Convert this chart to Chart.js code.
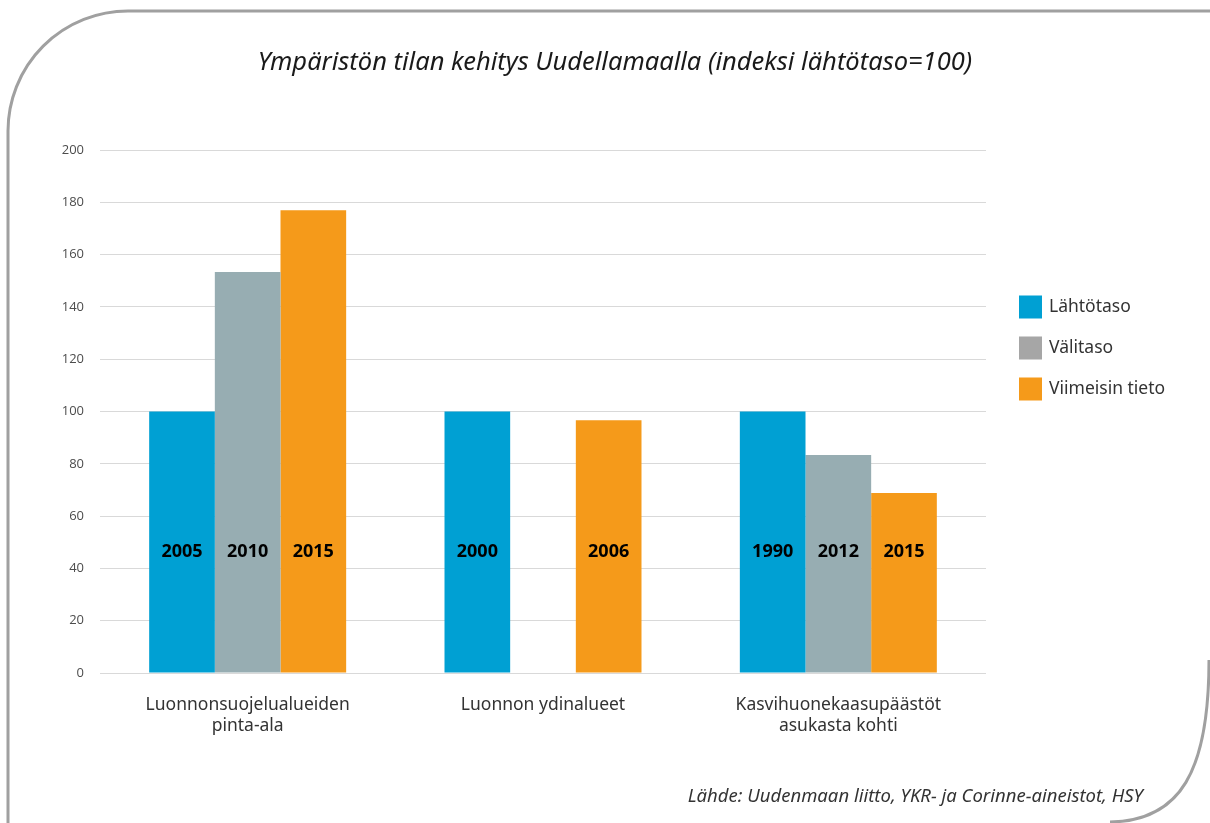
<!DOCTYPE html>
<html>
<head>
<meta charset="utf-8">
<script src="https://cdn.jsdelivr.net/npm/chart.js@4.4.1/dist/chart.umd.min.js"></script>
<style>
  html, body { margin: 0; padding: 0; background: #fff; }
  #wrap { position: relative; width: 1210px; height: 823px; overflow: hidden; }
  #frame { position: absolute; left: 0; top: 0; pointer-events: none; }
  canvas { position: absolute; left: 0; top: 0; }
</style>
</head>
<body>
<div id="wrap">
  <canvas id="chart" width="1210" height="823"></canvas>
  <svg id="frame" width="1210" height="823">
    <path d="M 8 830 L 8 131 A 120 120 0 0 1 128 11 L 1215 11" fill="none" stroke="#a0a0a0" stroke-width="3"/>
    <path d="M 1209 660 C 1209 772, 1180 821, 1110 822" fill="none" stroke="#a0a0a0" stroke-width="3"/>
  </svg>
</div>
<script>
// data
const categories = [['Luonnonsuojelualueiden', 'pinta-ala'], 'Luonnon ydinalueet', ['Kasvihuonekaasupäästöt', 'asukasta kohti']];
const seriesNames = ['Lähtötaso', 'Välitaso', 'Viimeisin tieto'];
const lahtotaso = [100, 100, 100];
const valitaso = [153.3, null, 83.4];
const viimeisin = [177, 96.7, 68.8];
const yearsLahtotaso = ['2005', '2000', '1990'];
const yearsValitaso = ['2010', '', '2012'];
const yearsViimeisin = ['2015', '2006', '2015'];
const yTicks = [0, 20, 40, 60, 80, 100, 120, 140, 160, 180, 200];

const barColors = ['#00a0d3', '#97adb2', '#f59a1a'];
const legendColors = ['#00a0d3', '#a6a6a6', '#f59a1a'];

const titleText = 'Ympäristön tilan kehitys Uudellamaalla (indeksi lähtötaso=100)';
const sourceText = 'Lähde: Uudenmaan liitto, YKR- ja Corinne-aineistot, HSY';

const yearLabels = [yearsLahtotaso, yearsValitaso, yearsViimeisin];

// years inside bars + title, legend and source
const decor = {
    id: 'decor',
    afterDatasetsDraw(chart) {
        const ctx = chart.ctx;
        const yScale = chart.scales.y;
        ctx.save();
        ctx.font = 'bold 18px "Open Sans"';
        ctx.fillStyle = '#000';
        ctx.textAlign = 'center';
        ctx.textBaseline = 'middle';
        chart.data.datasets.forEach((ds, i) => {
            const meta = chart.getDatasetMeta(i);
            meta.data.forEach((bar, j) => {
                const txt = yearLabels[i][j];
                if (!txt) return;
                ctx.fillText(txt, bar.x, yScale.getPixelForValue(46.3));
            });
        });
        ctx.restore();
    },
    afterDraw(chart) {
        const ctx = chart.ctx;
        ctx.save();
        // title
        ctx.font = 'italic 25.5px "Noto Sans"';
        ctx.fillStyle = '#1a1a1a';
        ctx.textAlign = 'center';
        ctx.textBaseline = 'middle';
        ctx.fillText(titleText, 615, 63);

        // legend
        ctx.font = '17.5px "Noto Sans"';
        ctx.textAlign = 'left';
        seriesNames.forEach((name, i) => {
            const cy = 307 + i * 41;
            ctx.fillStyle = legendColors[i];
            ctx.fillRect(1019, cy - 11.5, 23, 23);
            ctx.fillStyle = '#333';
            ctx.fillText(name, 1049, cy);
        });

        // source
        ctx.font = 'italic 18.5px "Noto Sans"';
        ctx.textAlign = 'right';
        ctx.fillStyle = '#333';
        ctx.fillText(sourceText, 1143, 797);
        ctx.restore();
    }
};

const ctx = document.getElementById('chart').getContext('2d');

new Chart(ctx, {
    type: 'bar',
    data: {
        labels: categories,
        datasets: [
            { label: seriesNames[0], data: lahtotaso, backgroundColor: barColors[0] },
            { label: seriesNames[1], data: valitaso, backgroundColor: barColors[1] },
            { label: seriesNames[2], data: viimeisin, backgroundColor: barColors[2] }
        ]
    },
    options: {
        responsive: false,
        animation: false,
        datasets: {
            bar: { categoryPercentage: 0.667, barPercentage: 1.0, borderWidth: 0 }
        },
        layout: {
            padding: { left: 20, right: 224, top: 150, bottom: 80 }
        },
        plugins: {
            legend: { display: false },
            title: { display: false },
            tooltip: { enabled: false }
        },
        scales: {
            x: {
                grid: { display: false, drawTicks: false },
                border: { display: false },
                ticks: {
                    color: '#333',
                    font: { family: '"Noto Sans"', size: 17.5 },
                    padding: 22,
                    maxRotation: 0
                },
                afterFit(scale) { scale.height = 70; }
            },
            y: {
                min: 0,
                max: 200,
                afterBuildTicks(scale) { scale.ticks = yTicks.map(v => ({ value: v })); },
                grid: { color: '#d9d9d9', lineWidth: 1, drawTicks: false },
                border: { display: false },
                ticks: {
                    color: '#4d4d4d',
                    font: { family: '"Open Sans"', size: 13 },
                    padding: 16
                },
                afterFit(scale) { scale.width = 80; }
            }
        }
    },
    plugins: [decor]
});
</script>
</body>
</html>
